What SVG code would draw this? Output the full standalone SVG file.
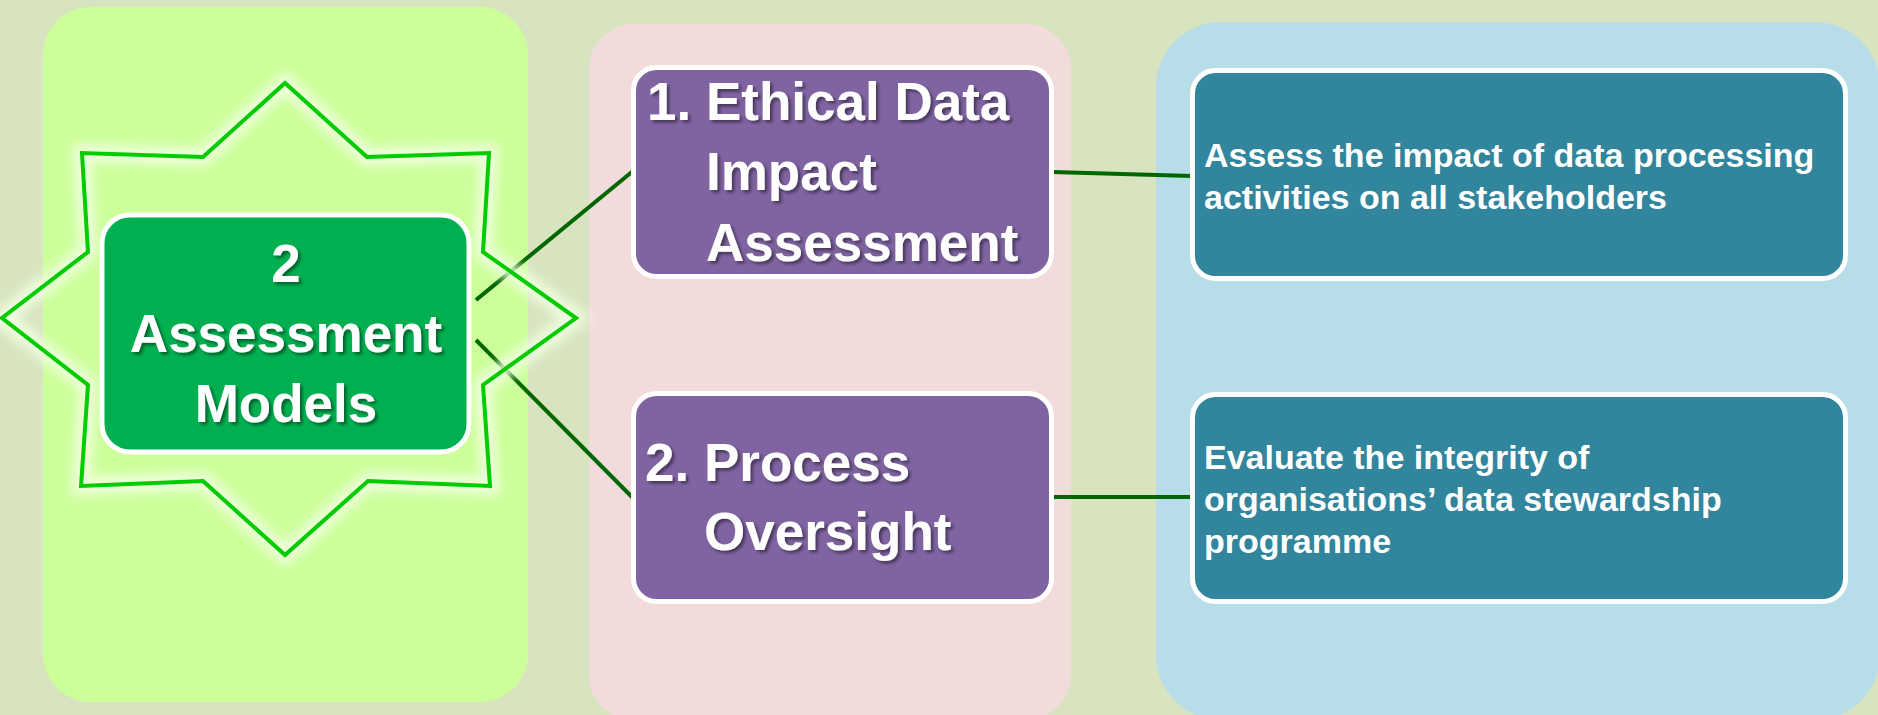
<svg xmlns="http://www.w3.org/2000/svg" width="1878" height="715" viewBox="0 0 1878 715">
  <defs>
    <style>
      .big { font-family: "Liberation Sans", Arial, sans-serif; font-weight: bold; font-size: 53px; fill: #ffffff; }
      .small { font-family: "Liberation Sans", Arial, sans-serif; font-weight: bold; font-size: 34px; fill: #ffffff; }
      .purple { fill: #8064a2; stroke: #ffffff; stroke-width: 5; }
      .teal { fill: #31859c; stroke: #ffffff; stroke-width: 5; }
      .conn { stroke: #006600; stroke-width: 4; fill: none; }
    </style>
    <filter id="shadow" x="-10%" y="-20%" width="120%" height="140%">
      <feDropShadow dx="2.5" dy="2.5" stdDeviation="1.5" flood-color="#000000" flood-opacity="0.45"/>
    </filter>
    <filter id="glow" x="-20%" y="-20%" width="140%" height="140%">
      <feGaussianBlur stdDeviation="6"/>
    </filter>
  </defs>

  <rect x="0" y="0" width="1878" height="715" fill="#d8e4bf"/>

  <g id="panels">
    <rect x="43" y="7" width="485" height="695" rx="48" ry="48" fill="#ccff99"/>
    <rect x="589" y="24" width="482" height="696" rx="45" ry="45" fill="#f2dcdb"/>
    <rect x="1156" y="22" width="724" height="698" rx="65" ry="65" fill="#b7dee8"/>
  </g>

  <g id="connectors">
    <line class="conn" x1="476" y1="300" x2="633" y2="171"/>
    <line class="conn" x1="476" y1="340" x2="633" y2="498"/>
    <line class="conn" x1="1052" y1="172" x2="1192" y2="176"/>
    <line class="conn" x1="1052" y1="497" x2="1192" y2="497"/>
  </g>

  <g id="star">
    <polygon points="285,83 367,157 489,153 483,252 576,318 483,385 490,486 368,481 285,555 203,481 81,486 88,385 2,318 88,252 82,153 203,157" fill="none" stroke="#f2ffe4" stroke-width="18" stroke-linejoin="miter" filter="url(#glow)" opacity="0.9"/>
    <polygon points="285,83 367,157 489,153 483,252 576,318 483,385 490,486 368,481 285,555 203,481 81,486 88,385 2,318 88,252 82,153 203,157" fill="none" stroke="#00cc00" stroke-width="4" stroke-linejoin="miter"/>
  </g>

  <g id="center-node">
    <rect x="102" y="215" width="367" height="237" rx="28" ry="28" fill="#00b050" stroke="#ffffff" stroke-width="5"/>
    <g class="big" text-anchor="middle" filter="url(#shadow)">
      <text x="286" y="282">2</text>
      <text x="286" y="352">Assessment</text>
      <text x="286" y="422">Models</text>
    </g>
  </g>

  <g id="node-ethical">
    <rect class="purple" x="633.5" y="67.5" width="418" height="209" rx="23" ry="23"/>
    <g class="big" filter="url(#shadow)">
      <text x="647" y="120">1. Ethical Data</text>
      <text x="706" y="190">Impact</text>
      <text x="706" y="261">Assessment</text>
    </g>
  </g>

  <g id="node-process">
    <rect class="purple" x="633.5" y="393.5" width="418" height="208" rx="23" ry="23"/>
    <g class="big" filter="url(#shadow)">
      <text x="645" y="481">2. Process</text>
      <text x="704" y="550">Oversight</text>
    </g>
  </g>

  <g id="desc-impact">
    <rect class="teal" x="1192.5" y="70.5" width="653" height="208" rx="23" ry="23"/>
    <g class="small">
      <text x="1204" y="167">Assess the impact of data processing</text>
      <text x="1204" y="209">activities on all stakeholders</text>
    </g>
  </g>

  <g id="desc-integrity">
    <rect class="teal" x="1192.5" y="394.5" width="653" height="207" rx="23" ry="23"/>
    <g class="small">
      <text x="1204" y="469">Evaluate the integrity of</text>
      <text x="1204" y="511">organisations’ data stewardship</text>
      <text x="1204" y="553">programme</text>
    </g>
  </g>
</svg>
